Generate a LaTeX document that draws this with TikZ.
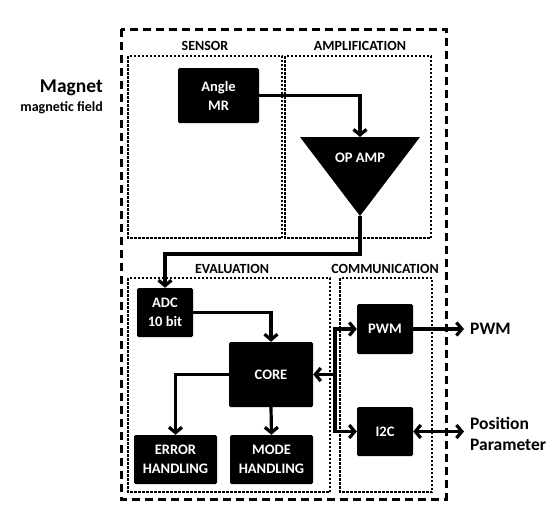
\documentclass[tikz,border=0pt]{standalone}
\usepackage{fontspec}
\setmainfont{Carlito}
\usetikzlibrary{arrows.meta}
\begin{document}
\begin{tikzpicture}[x=1pt,y=-1pt,
  >={Straight Barb[length=5.5pt,width=13pt]},
  blk/.style={fill=black,text=white,font=\bfseries\fontsize{14.5}{19}\selectfont,rounded corners=1.5pt,inner sep=0pt,align=center},
  conn/.style={line width=3.2pt},
  outerbox/.style={line width=3pt,dash pattern=on 8pt off 5pt},
  innerbox/.style={line width=1.1pt,dash pattern=on 2.5pt off 1.5pt},
  sect/.style={font=\bfseries\fontsize{14}{16}\selectfont,inner sep=0pt},
  outtxt/.style={font=\bfseries\fontsize{17.5}{21}\selectfont,inner sep=0pt,align=left}
]
\useasboundingbox (0,0) rectangle (557,515);
% frames
\draw[outerbox] (121,29) rectangle (446,499);
\draw[innerbox] (128,56) rectangle (282,238);
\draw[innerbox] (285,56) rectangle (431,238);
\draw[innerbox] (128,278) rectangle (330,492);
\draw[innerbox] (340,278) rectangle (432,492);
% section labels
\node[sect] (lsensor) at (205,46) {SENSOR};
\node[sect] (lamp) at (360,46) {AMPLIFICATION};
\node[sect] (leval) at (232,269) {EVALUATION};
\node[sect] (lcomm) at (385,269) {COMMUNICATION};
% magnet
\node[anchor=base east,inner sep=0pt,font=\bfseries\fontsize{19.5}{22}\selectfont] (magnet) at (103,92.5) {Magnet};
\node[anchor=base east,inner sep=0pt,font=\bfseries\fontsize{14}{16}\selectfont] (field) at (103,111) {magnetic field};
% blocks
\node[blk,minimum width=81pt,minimum height=55pt] (angle) at (218.5,95.5) {Angle\\MR};
\fill (300,137) -- (420,137) -- (360,216) -- cycle;
\node[font=\bfseries\fontsize{14.5}{16}\selectfont,text=white,inner sep=0pt] (opamp) at (360,158) {OP AMP};
\coordinate (optop) at (360,137);
\coordinate (opapex) at (360,216);
\coordinate (bend) at (360,254);
\node[blk,minimum width=56pt,minimum height=49pt] (adc) at (165,312.5) {ADC\\10 bit};
\node[blk,minimum width=84pt,minimum height=65pt] (core) at (271,374.5) {CORE};
\node[blk,minimum width=83pt,minimum height=49pt] (error) at (175.5,459.5) {ERROR\\HANDLING};
\node[blk,minimum width=83pt,minimum height=49pt] (mode) at (271.5,459.5) {MODE\\HANDLING};
\node[blk,minimum width=56pt,minimum height=50pt] (pwm) at (385,329) {PWM};
\node[blk,minimum width=56pt,minimum height=49pt] (i2c) at (385,431.5) {I2C};
\coordinate (busM) at (335,374.5);
% outputs
\node[outtxt,anchor=west] (pwmout) at (470,329) {PWM};
\node[outtxt,anchor=west] (posout) at (470,433.5) {Position\\Parameter};
% connectors
\draw[conn,->] (angle.east) -| (optop);
\draw[conn,->] (opapex) -- (bend) -| (adc.north);
\draw[conn,->] (adc.east) -| (core.north);
\draw[conn,->] (core.west) -| (error.north);
\draw[conn,->] (core.south) -- (mode.north);
\draw[conn,<->] (pwm.west) -| (busM) |- (i2c.west);
\draw[conn,->] (busM) -- (core.east);
\draw[conn,->] (pwm.east) -- ([xshift=-6pt]pwmout.west);
\draw[conn,<->] (i2c.east) -- ([xshift=-6pt]i2c.east -| posout.west);
\end{tikzpicture}
\end{document}
